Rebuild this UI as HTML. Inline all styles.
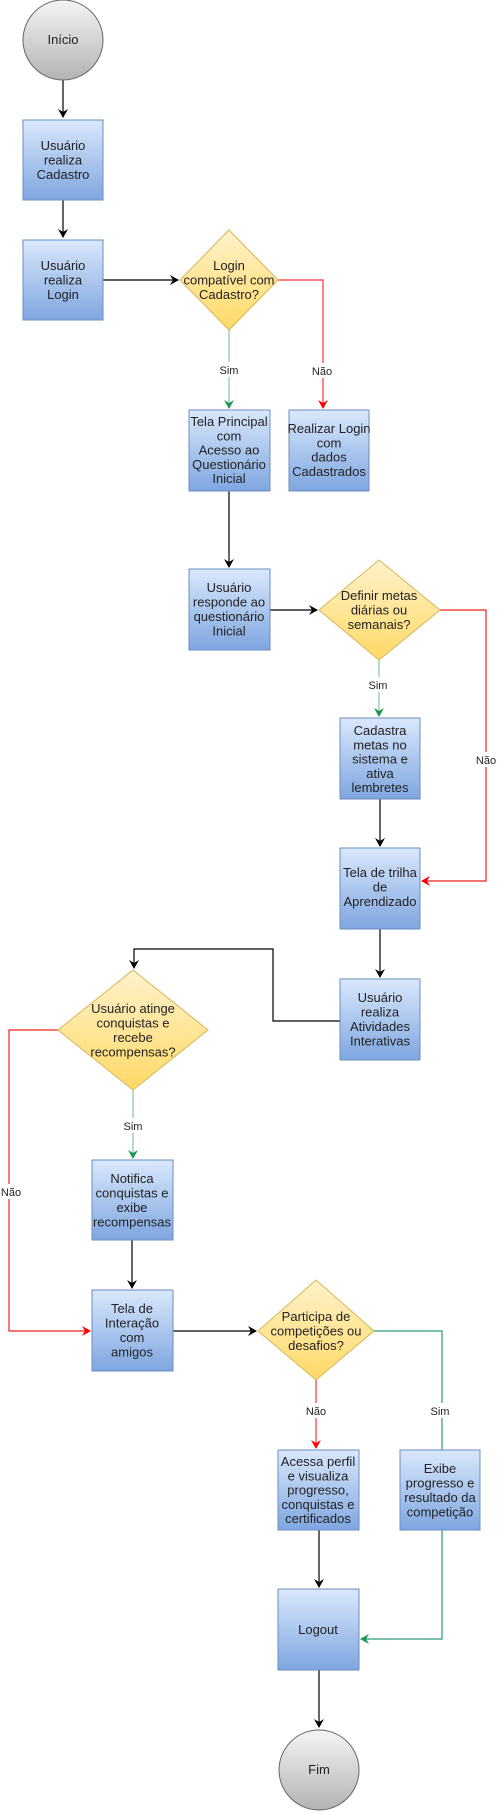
<!DOCTYPE html>
<html><head><meta charset="utf-8"><style>html,body{margin:0;padding:0;background:#fff}svg{display:block}text{font-family:"Liberation Sans",sans-serif;font-size:13px;fill:#222;text-anchor:middle}.l{font-size:11px}</style></head><body>
<svg width="498" height="1811" viewBox="0 0 498 1811" xmlns="http://www.w3.org/2000/svg">
<defs>
<linearGradient id="b" x1="0" y1="0" x2="0" y2="1"><stop offset="0" stop-color="#dae8fc"/><stop offset="1" stop-color="#7ea6e0"/></linearGradient>
<linearGradient id="d" x1="0" y1="0" x2="0" y2="1"><stop offset="0" stop-color="#fff2cc"/><stop offset="1" stop-color="#ffd966"/></linearGradient>
<linearGradient id="c" x1="0" y1="0" x2="0" y2="1"><stop offset="0" stop-color="#f5f5f5"/><stop offset="1" stop-color="#b3b3b3"/></linearGradient>
<marker id="ak" markerWidth="10" markerHeight="10" refX="8" refY="5" orient="auto" markerUnits="userSpaceOnUse"><path d="M0,0 L9,5 L0,10 L3,5 z" fill="#000"/></marker>
<marker id="ar" markerWidth="10" markerHeight="10" refX="8" refY="5" orient="auto" markerUnits="userSpaceOnUse"><path d="M0,0 L9,5 L0,10 L3,5 z" fill="#f00"/></marker>
<marker id="ag" markerWidth="10" markerHeight="10" refX="8" refY="5" orient="auto" markerUnits="userSpaceOnUse"><path d="M0,0 L9,5 L0,10 L3,5 z" fill="#1a9850"/></marker>
</defs>
<g fill="none" stroke-width="1.2">
<path d="M63,80 V117" stroke="#000" marker-end="url(#ak)"/>
<path d="M63,200 V237" stroke="#000" marker-end="url(#ak)"/>
<path d="M103,280 H178" stroke="#000" marker-end="url(#ak)"/>
<path d="M278,280 H323 V408" stroke="#f33" marker-end="url(#ar)"/>
<path d="M229,330 V408" stroke="#82c8a0" marker-end="url(#ag)"/>
<path d="M229,491 V567" stroke="#000" marker-end="url(#ak)"/>
<path d="M270,610 H317" stroke="#000" marker-end="url(#ak)"/>
<path d="M440,610 H486 V881 H422" stroke="#e22" marker-end="url(#ar)"/>
<path d="M379,660 V716" stroke="#82c8a0" marker-end="url(#ag)"/>
<path d="M380,799 V846" stroke="#000" marker-end="url(#ak)"/>
<path d="M380,929 V977" stroke="#000" marker-end="url(#ak)"/>
<path d="M340,1021 H273 V949 H134 V968" stroke="#000" marker-end="url(#ak)"/>
<path d="M58,1030 H9 V1331 H90" stroke="#e22" marker-end="url(#ar)"/>
<path d="M133,1090 V1158" stroke="#82c8a0" marker-end="url(#ag)"/>
<path d="M132,1240 V1288" stroke="#000" marker-end="url(#ak)"/>
<path d="M173,1331 H256" stroke="#000" marker-end="url(#ak)"/>
<path d="M374,1331 H442 V1450" stroke="#2a9a7a"/>
<path d="M442,1530 V1639 H361" stroke="#2a9a7a" marker-end="url(#ag)"/>
<path d="M316,1380 V1448" stroke="#f33" marker-end="url(#ar)"/>
<path d="M319,1530 V1587" stroke="#000" marker-end="url(#ak)"/>
<path d="M319,1670 V1727" stroke="#000" marker-end="url(#ak)"/>
</g>
<g stroke="#6c8ebf" fill="url(#b)">
<rect x="23" y="120" width="80" height="80"/>
<rect x="23" y="240" width="80" height="80"/>
<rect x="189" y="410" width="81" height="81"/>
<rect x="289" y="410" width="80" height="81"/>
<rect x="189" y="569" width="81" height="81"/>
<rect x="340" y="718" width="80" height="81"/>
<rect x="340" y="848" width="80" height="81"/>
<rect x="340" y="979" width="80" height="81"/>
<rect x="92" y="1160" width="81" height="80"/>
<rect x="92" y="1290" width="81" height="81"/>
<rect x="278" y="1450" width="81" height="80"/>
<rect x="400" y="1450" width="80" height="80"/>
<rect x="278" y="1589" width="81" height="81"/>
</g>
<g stroke="#d6b656" fill="url(#d)">
<path d="M229,230 L278,280 L229,330 L180,280 z"/>
<path d="M379,560 L440,610 L379,660 L319,610 z"/>
<path d="M133,970 L208,1030 L133,1090 L58,1030 z"/>
<path d="M316,1280 L374,1331 L316,1380 L258,1331 z"/>
</g>
<g stroke="#666" fill="url(#c)">
<circle cx="63" cy="40" r="40"/>
<circle cx="319" cy="1770" r="40"/>
</g>
<rect x="214" y="362" width="30" height="15" fill="#fff"/><text class="l" x="229" y="374">Sim</text>
<rect x="308" y="363" width="30" height="15" fill="#fff"/><text class="l" x="322" y="375">Não</text>
<rect x="364" y="677" width="30" height="15" fill="#fff"/><text class="l" x="378" y="689">Sim</text>
<rect x="472" y="752" width="30" height="15" fill="#fff"/><text class="l" x="486" y="764">Não</text>
<rect x="0" y="1184" width="22" height="15" fill="#fff"/><text class="l" x="11" y="1196">Não</text>
<rect x="118" y="1118" width="30" height="15" fill="#fff"/><text class="l" x="133" y="1130">Sim</text>
<rect x="301" y="1403" width="30" height="15" fill="#fff"/><text class="l" x="316" y="1415">Não</text>
<rect x="427" y="1403" width="30" height="15" fill="#fff"/><text class="l" x="440" y="1415">Sim</text>
<text x="63" y="44">Início</text>
<text x="63" y="150"><tspan x="63">Usuário</tspan><tspan x="63" dy="14.5">realiza</tspan><tspan x="63" dy="14.5">Cadastro</tspan></text>
<text x="63" y="270"><tspan x="63">Usuário</tspan><tspan x="63" dy="14.5">realiza</tspan><tspan x="63" dy="14.5">Login</tspan></text>
<text x="229" y="270"><tspan x="229">Login</tspan><tspan x="229" dy="14.5">compatível com</tspan><tspan x="229" dy="14.5">Cadastro?</tspan></text>
<text x="229" y="426"><tspan x="229">Tela Principal</tspan><tspan x="229" dy="14.3">com</tspan><tspan x="229" dy="14.3">Acesso ao</tspan><tspan x="229" dy="14.3">Questionário</tspan><tspan x="229" dy="14.3">Inicial</tspan></text>
<text x="329" y="433"><tspan x="329">Realizar Login</tspan><tspan x="329" dy="14.3">com</tspan><tspan x="329" dy="14.3">dados</tspan><tspan x="329" dy="14.3">Cadastrados</tspan></text>
<text x="229" y="592"><tspan x="229">Usuário</tspan><tspan x="229" dy="14.5">responde ao</tspan><tspan x="229" dy="14.5">questionário</tspan><tspan x="229" dy="14.5">Inicial</tspan></text>
<text x="379" y="600"><tspan x="379">Definir metas</tspan><tspan x="379" dy="14.5">diárias ou</tspan><tspan x="379" dy="14.5">semanais?</tspan></text>
<text x="380" y="735"><tspan x="380">Cadastra</tspan><tspan x="380" dy="14.3">metas no</tspan><tspan x="380" dy="14.3">sistema e</tspan><tspan x="380" dy="14.3">ativa</tspan><tspan x="380" dy="14.3">lembretes</tspan></text>
<text x="380" y="877"><tspan x="380">Tela de trilha</tspan><tspan x="380" dy="14.5">de</tspan><tspan x="380" dy="14.5">Aprendizado</tspan></text>
<text x="380" y="1002"><tspan x="380">Usuário</tspan><tspan x="380" dy="14.5">realiza</tspan><tspan x="380" dy="14.5">Atividades</tspan><tspan x="380" dy="14.5">Interativas</tspan></text>
<text x="133" y="1013"><tspan x="133">Usuário atinge</tspan><tspan x="133" dy="14.5">conquistas e</tspan><tspan x="133" dy="14.5">recebe</tspan><tspan x="133" dy="14.5">recompensas?</tspan></text>
<text x="132" y="1183"><tspan x="132">Notifica</tspan><tspan x="132" dy="14.5">conquistas e</tspan><tspan x="132" dy="14.5">exibe</tspan><tspan x="132" dy="14.5">recompensas</tspan></text>
<text x="132" y="1313"><tspan x="132">Tela de</tspan><tspan x="132" dy="14.5">Interação</tspan><tspan x="132" dy="14.5">com</tspan><tspan x="132" dy="14.5">amigos</tspan></text>
<text x="316" y="1321"><tspan x="316">Participa de</tspan><tspan x="316" dy="14.5">competições ou</tspan><tspan x="316" dy="14.5">desafios?</tspan></text>
<text x="318" y="1466"><tspan x="318">Acessa perfil</tspan><tspan x="318" dy="14.3">e visualiza</tspan><tspan x="318" dy="14.3">progresso,</tspan><tspan x="318" dy="14.3">conquistas e</tspan><tspan x="318" dy="14.3">certificados</tspan></text>
<text x="440" y="1473"><tspan x="440">Exibe</tspan><tspan x="440" dy="14.5">progresso e</tspan><tspan x="440" dy="14.5">resultado da</tspan><tspan x="440" dy="14.5">competição</tspan></text>
<text x="318" y="1634">Logout</text>
<text x="319" y="1774">Fim</text>
</svg>
</body></html>
